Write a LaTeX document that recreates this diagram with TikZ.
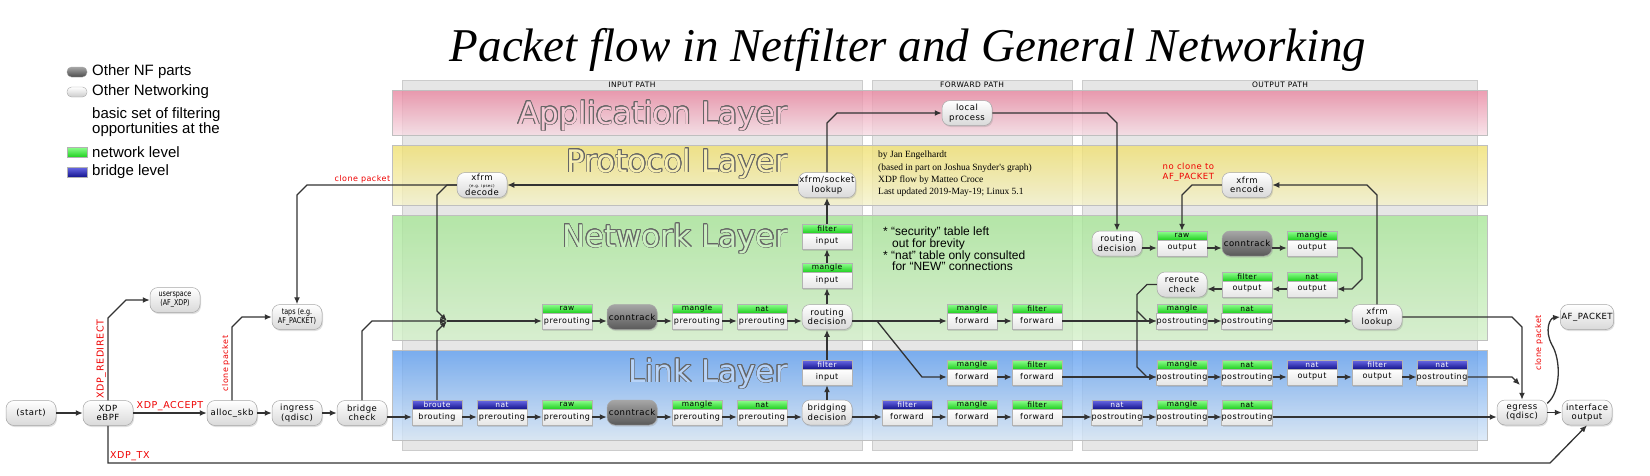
\documentclass[tikz,border=0pt]{standalone}
\usepackage{fontspec}
\setmainfont{DejaVu Sans}
\newfontfamily\nodefont[LetterSpace=6]{DejaVu Sans}
\newfontfamily\arialfont{Liberation Sans}
\newfontfamily\timesfont{Liberation Serif}
\newfontfamily\condfont[FakeStretch=0.8]{DejaVu Sans}
\usepackage{contour}
\contourlength{0.7pt}
\usetikzlibrary{arrows.meta,shadows}

\definecolor{appA}{HTML}{E8859F}
\definecolor{appB}{HTML}{F6DCE4}
\definecolor{proA}{HTML}{F0E070}
\definecolor{proB}{HTML}{F4F2CC}
\definecolor{netA}{HTML}{A8E698}
\definecolor{netB}{HTML}{D4F0CA}
\definecolor{linA}{HTML}{5E9EF0}
\definecolor{linB}{HTML}{D6E6F6}
\definecolor{panelgray}{HTML}{E6E6E6}
\definecolor{hgA}{HTML}{90FF90}
\definecolor{hgB}{HTML}{20D020}
\definecolor{hbA}{HTML}{6A6AE8}
\definecolor{hbB}{HTML}{14148E}
\definecolor{xdpred}{HTML}{EE0000}
\definecolor{wire}{HTML}{333333}

\tikzset{
  panelbox/.style={fill=panelgray, draw=black!20, line width=0.6pt},
  band/.style={draw=black!25, line width=0.6pt, fill opacity=0.8},
  layertxt/.style={font=\fontsize{31}{31}\selectfont, inner sep=0pt, anchor=east},
  pathlbl/.style={font=\nodefont\fontsize{7.5}{8}\selectfont, inner sep=0pt},
  pill/.style={rounded corners=8pt, minimum width=50pt, minimum height=25pt,
    inner sep=1pt, align=center, top color=white, bottom color=black!15,
    draw=black!35, line width=0.5pt, font=\nodefont\fontsize{8.5}{9.5}\selectfont,
    drop shadow={shadow xshift=1pt, shadow yshift=-1.5pt, opacity=0.25}},
  nfpill/.style={pill, top color=black!35, bottom color=black!65},
  condpill/.style={pill, font=\condfont\fontsize{8}{9}\selectfont},
  tabhead/.style={minimum width=50pt, minimum height=9pt, inner sep=0pt,
    draw=black!30, line width=0.4pt, font=\nodefont\fontsize{7.5}{8}\selectfont},
  tabbody/.style={minimum width=50pt, minimum height=16pt, inner sep=0pt,
    top color=white, bottom color=black!10, draw=black!30, line width=0.4pt,
    font=\nodefont\fontsize{8}{9}\selectfont,
    drop shadow={shadow xshift=1pt, shadow yshift=-1.5pt, opacity=0.25}},
  nethead/.style={top color=hgA, bottom color=hgB, text=black},
  brhead/.style={top color=hbA, bottom color=hbB, text=white},
  conn/.style={draw=wire, line width=1.3pt, -{Latex[length=7pt,width=6pt]}},
  lbl/.style={text=xdpred, font=\nodefont\fontsize{9.5}{10}\selectfont, inner sep=1.5pt},
  lblsm/.style={text=xdpred, font=\nodefont\fontsize{8}{9}\selectfont, inner sep=1.5pt},
  legtxt/.style={font=\arialfont\fontsize{15}{12}\selectfont, inner sep=0pt, anchor=west},
  legpill/.style={rounded corners=4.5pt, minimum width=20pt, minimum height=10pt,
    inner sep=0pt, top color=white, bottom color=black!20, draw=black!35},
  legbox/.style={minimum width=20pt, minimum height=10pt, inner sep=0pt, draw=black!30},
}

% table node: name, x, top y, header style, header, body
\newcommand{\tabbox}[6]{%
  \node[tabhead,#4] (#1-h) at (#2,#3+4.5) {#5};
  \node[tabbody] (#1) at (#2,#3+17) {#6};}

\begin{document}
\begin{tikzpicture}[x=1pt,y=-1pt]
  \useasboundingbox (0,0) rectangle (1650,475);

  % path panels and layer bands
  \draw[panelbox] (402,80) rectangle (862,450);
  \draw[panelbox] (872,80) rectangle (1072,450);
  \draw[panelbox] (1082,80) rectangle (1477,450);
  \node[pathlbl] (inpath) at (632,85) {INPUT PATH};
  \node[pathlbl] (fwdpath) at (972,85) {FORWARD PATH};
  \node[pathlbl] (outpath) at (1280,85) {OUTPUT PATH};
  \shade[band, top color=appA, bottom color=appB] (392,90) rectangle (1487,135);
  \shade[band, top color=proA, bottom color=proB] (392,145) rectangle (1487,205);
  \shade[band, top color=netA, bottom color=netB] (392,215) rectangle (1487,340);
  \shade[band, top color=linA, bottom color=linB] (392,350) rectangle (1487,440);
  \draw[draw=black!25, line width=0.6pt] (392,90) rectangle (1487,135);
  \draw[draw=black!25, line width=0.6pt] (392,145) rectangle (1487,205);
  \draw[draw=black!25, line width=0.6pt] (392,215) rectangle (1487,340);
  \draw[draw=black!25, line width=0.6pt] (392,350) rectangle (1487,440);
  \node[layertxt, text=appA!45!white] (applayer) at (788,116) {\contour{black!60}{Application Layer}};
  \node[layertxt, text=proA!55!white] (protolayer) at (788,164) {\contour{black!60}{Protocol Layer}};
  \node[layertxt, text=netA!60!white] (netlayer) at (788,239) {\contour{black!60}{Network Layer}};
  \node[layertxt, text=linA!45!white] (linklayer) at (788,374) {\contour{black!60}{Link Layer}};

  % title, legend and notes
  \node[font=\timesfont\itshape\fontsize{47}{50}\selectfont, anchor=base, inner sep=0pt] (title) at (908,61) {Packet flow in Netfilter and General Networking};
  \node[legpill, top color=black!35, bottom color=black!70] (legnf) at (77,72) {};
  \node[legtxt] (legnftxt) at (92,72) {Other NF parts};
  \node[legpill] (legon) at (77,92) {};
  \node[legtxt] (legontxt) at (92,92) {Other Networking};
  \node[legtxt, align=left] (legbasic) at (92,122) {basic set of filtering\\opportunities at the};
  \node[legbox, nethead] (legnet) at (77,152) {};
  \node[legtxt] (legnettxt) at (92,152) {network level};
  \node[legbox, brhead] (legbr) at (77,172) {};
  \node[legtxt] (legbrtxt) at (92,172) {bridge level};
  \node[font=\timesfont\fontsize{9.5}{12.3}\selectfont, align=left, inner sep=0pt, anchor=west] (credits) at (878,174)
    {by Jan Engelhardt\\(based in part on Joshua Snyder's graph)\\XDP flow by Matteo Croce\\Last updated 2019-May-19; Linux 5.1};
  \node[font=\arialfont\fontsize{12}{11.7}\selectfont, align=left, inner sep=0pt, anchor=west] (notes) at (883,249)
    {* “security” table left\\\hspace*{9pt}out for brevity\\* “nat” table only consulted\\\hspace*{9pt}for “NEW” connections};

  % ingress side
  \node[pill] (start) at (31,413) {(start)};
  \node[pill] (xdp) at (108,413) {XDP\\eBPF};
  \node[condpill] (usr) at (175,300) {userspace\\(AF\_XDP)};
  \node[pill] (alloc) at (232,413) {alloc\_skb};
  \node[condpill] (taps) at (297,317) {taps (e.g.\\AF\_PACKET)};
  \node[pill] (ingress) at (297,413) {ingress\\(qdisc)};
  \node[pill] (bcheck) at (362,413) {bridge\\check};

  % input path
  \tabbox{brt}{437}{400}{brhead}{broute}{brouting}
  \tabbox{bnatpre}{502}{400}{brhead}{nat}{prerouting}
  \tabbox{lrawpre}{567}{400}{nethead}{raw}{prerouting}
  \node[nfpill] (lct) at (632,412.5) {conntrack};
  \tabbox{lmanpre}{697}{400}{nethead}{mangle}{prerouting}
  \tabbox{lnatpre}{762}{400}{nethead}{nat}{prerouting}
  \node[pill] (bdec) at (827,412.5) {bridging\\decision};
  \tabbox{bfiltin}{827}{360}{brhead}{filter}{input}
  \tabbox{nrawpre}{567}{304}{nethead}{raw}{prerouting}
  \node[nfpill] (nct) at (632,317) {conntrack};
  \tabbox{nmanpre}{697}{304}{nethead}{mangle}{prerouting}
  \tabbox{nnatpre}{762}{304}{nethead}{nat}{prerouting}
  \node[pill] (rdec) at (827,317) {routing\\decision};
  \tabbox{nmanin}{827}{263}{nethead}{mangle}{input}
  \tabbox{nfiltin}{827}{224}{nethead}{filter}{input}
  \node[pill] (sock) at (827,185) {xfrm/socket\\lookup};
  \node[pill] (xdec) at (482,185) {xfrm\\[-2.5pt]{\fontsize{4}{4}\selectfont (e.g. ipsec)}\\[-1pt]decode};
  \node[pill] (lproc) at (967,113) {local\\process};

  % forward path
  \tabbox{fmanN}{972}{304}{nethead}{mangle}{forward}
  \tabbox{ffilN}{1037}{304}{nethead}{filter}{forward}
  \tabbox{fmanL}{972}{360}{nethead}{mangle}{forward}
  \tabbox{ffilL}{1037}{360}{nethead}{filter}{forward}
  \tabbox{bfilfw}{907}{400}{brhead}{filter}{forward}
  \tabbox{fmanB}{972}{400}{nethead}{mangle}{forward}
  \tabbox{ffilB}{1037}{400}{nethead}{filter}{forward}

  % output path
  \node[pill] (odec) at (1117,243.5) {routing\\decision};
  \tabbox{orawout}{1182}{231}{nethead}{raw}{output}
  \node[nfpill] (oct) at (1247,243.5) {conntrack};
  \tabbox{omanout}{1312}{231}{nethead}{mangle}{output}
  \tabbox{onatout}{1312}{272}{nethead}{nat}{output}
  \tabbox{ofilout}{1247}{272}{nethead}{filter}{output}
  \node[pill] (rrchk) at (1182,284.5) {reroute\\check};
  \node[pill] (xenc) at (1247,185) {xfrm\\encode};
  \node[lblsm, align=left, anchor=west, font=\nodefont\fontsize{8.5}{10}\selectfont] (noclone) at (1161,172) {no clone to\\AF\_PACKET};
  \tabbox{omanpost}{1182}{304}{nethead}{mangle}{postrouting}
  \tabbox{onatpost}{1247}{304}{nethead}{nat}{postrouting}
  \node[pill] (xlook) at (1377,317) {xfrm\\lookup};
  \tabbox{lmanpost}{1182}{360}{nethead}{mangle}{postrouting}
  \tabbox{lnatpost}{1247}{360}{nethead}{nat}{postrouting}
  \tabbox{bnatout}{1312}{360}{brhead}{nat}{output}
  \tabbox{bfilout}{1377}{360}{brhead}{filter}{output}
  \tabbox{bnatpost}{1442}{360}{brhead}{nat}{postrouting}
  \tabbox{bnatpost2}{1117}{400}{brhead}{nat}{postrouting}
  \tabbox{lmanpost2}{1182}{400}{nethead}{mangle}{postrouting}
  \tabbox{lnatpost2}{1247}{400}{nethead}{nat}{postrouting}
  \node[pill] (egress) at (1522,412.5) {egress\\(qdisc)};
  \node[pill] (ifout) at (1587,412.5) {interface\\output};
  \node[pill] (afpkt) at (1587,317) {AF\_PACKET};
  \node[lblsm, rotate=90] (clonelbl) at (1539,343) {clone packet};

  % connectors, ingress side
  \coordinate (join) at (447,321);
  \coordinate (txbend) at (1550,463);
  \draw[conn] (start) -- (xdp);
  \draw[conn] (xdp) -- node[lbl, above] {XDP\_ACCEPT} (alloc);
  \draw[conn] (xdp.north) -- node[lbl, sloped, above] {XDP\_REDIRECT} (108,318) -- (126,300) -- (usr.west);
  \draw[conn] (xdp.south) -- (108,463) node[lbl, above right] {XDP\_TX} -- (txbend) -- (ifout.south);
  \draw[conn] (alloc) -- (ingress);
  \draw[conn] (ingress) -- (bcheck);
  \draw[conn] (alloc.north) -- node[lblsm, sloped, above] {clone packet} (232,327) -- (242,317) -- (taps.west);
  \draw[conn] (bcheck.east |- brt) -- (brt.west);
  \draw[conn] (bcheck.north) -- (362,331) -- (372,321) -- (join);
  \draw[conn] (brt-h.north) -- (437,331) -- (join);
  \draw[conn] (xdec.west) -- (447,185) -- (437,195) -- (437,311) -- (join);
  \draw[conn] (xdec.west) -- node[lblsm, above, pos=0.63] {clone packet} (307,185) -- (297,195) -- (taps.north);
  \draw[conn] (join) -- (nrawpre.west);

  % input path
  \draw[conn] (brt) -- (bnatpre);
  \draw[conn] (bnatpre) -- (lrawpre);
  \draw[conn] (lrawpre.east) -- (lct.west |- lrawpre);
  \draw[conn] (lct.east |- lmanpre) -- (lmanpre.west);
  \draw[conn] (lmanpre) -- (lnatpre);
  \draw[conn] (lnatpre.east) -- (bdec.west |- lnatpre);
  \draw[conn] (nrawpre.east) -- (nct.west |- nrawpre);
  \draw[conn] (nct.east |- nmanpre) -- (nmanpre.west);
  \draw[conn] (nmanpre) -- (nnatpre);
  \draw[conn] (nnatpre.east) -- (rdec.west |- nnatpre);
  \draw[conn] (bdec) -- (bfiltin);
  \draw[conn] (bfiltin-h) -- (rdec);
  \draw[conn] (rdec) -- (nmanin);
  \draw[conn] (nmanin-h) -- (nfiltin);
  \draw[conn] (nfiltin-h) -- (sock);
  \draw[conn] (sock) -- (xdec);
  \draw[conn] (sock.north) -- (827,123) -- (837,113) -- (lproc.west);
  \draw[conn] (lproc.east) -- (1107,113) -- (1117,123) -- (odec.north);

  % forward path
  \coordinate (fork) at (877,321);
  \draw[conn] (rdec.east |- fmanN) -- (fmanN.west);
  \draw[conn] (fork) -- (922,377) -- (fmanL.west);
  \draw[conn] (fmanN) -- (ffilN);
  \draw[conn] (ffilN) -- (omanpost);
  \draw[conn] (fmanL) -- (ffilL);
  \draw[conn] (ffilL) -- (lmanpost);
  \draw[conn] (bdec.east |- bfilfw) -- (bfilfw.west);
  \draw[conn] (bfilfw) -- (fmanB);
  \draw[conn] (fmanB) -- (ffilB);
  \draw[conn] (ffilB) -- (bnatpost2);
  \draw[conn] (bnatpost2) -- (lmanpost2);
  \draw[conn] (lmanpost2) -- (lnatpost2);
  \draw[conn] (lnatpost2.east) -- (egress.west |- lnatpost2);

  % output path
  \coordinate (rrsplit) at (1137,311);
  \draw[conn] (odec.east |- orawout) -- (orawout.west);
  \draw[conn] (orawout.east) -- (oct.west |- orawout);
  \draw[conn] (oct.east |- omanout) -- (omanout.west);
  \draw[conn] (omanout.east) -- (1352,248) -- (1362,258) -- (1362,279) -- (1352,289) -- (onatout.east);
  \draw[conn] (onatout) -- (ofilout);
  \draw[conn] (ofilout.west) -- (rrchk.east |- ofilout);
  \draw[conn] (rrchk.west) -- (1147,284.5) -- (1137,294.5) -- (1137,367) -- (1147,377) -- (lmanpost.west);
  \draw[conn] (rrsplit) -- (1147,321) -- (omanpost.west);
  \draw[conn] (xenc.west) -- (1192,185) -- (1182,195) -- (orawout-h.north);
  \draw[conn] (omanpost) -- (onatpost);
  \draw[conn] (onatpost.east) -- (xlook.west |- onatpost);
  \draw[conn] (xlook.north) -- (1377,195) -- (1367,185) -- (xenc.east);
  \draw[conn] (xlook.east) -- (1512,317) -- (1522,327) -- (egress.north);
  \draw[conn] (lmanpost) -- (lnatpost);
  \draw[conn] (lnatpost) -- (bnatout);
  \draw[conn] (bnatout) -- (bfilout);
  \draw[conn] (bfilout) -- (bnatpost);
  \draw[conn] (bnatpost.east) -- (1512,377) -- (1520,385);
  \draw[conn] (egress) -- (ifout);
  \draw[conn] (egress.20) .. controls (1561,392) and (1561,360) .. (1552,345) .. controls (1544,330) and (1550,318) .. (afpkt.west);
\end{tikzpicture}
\end{document}
